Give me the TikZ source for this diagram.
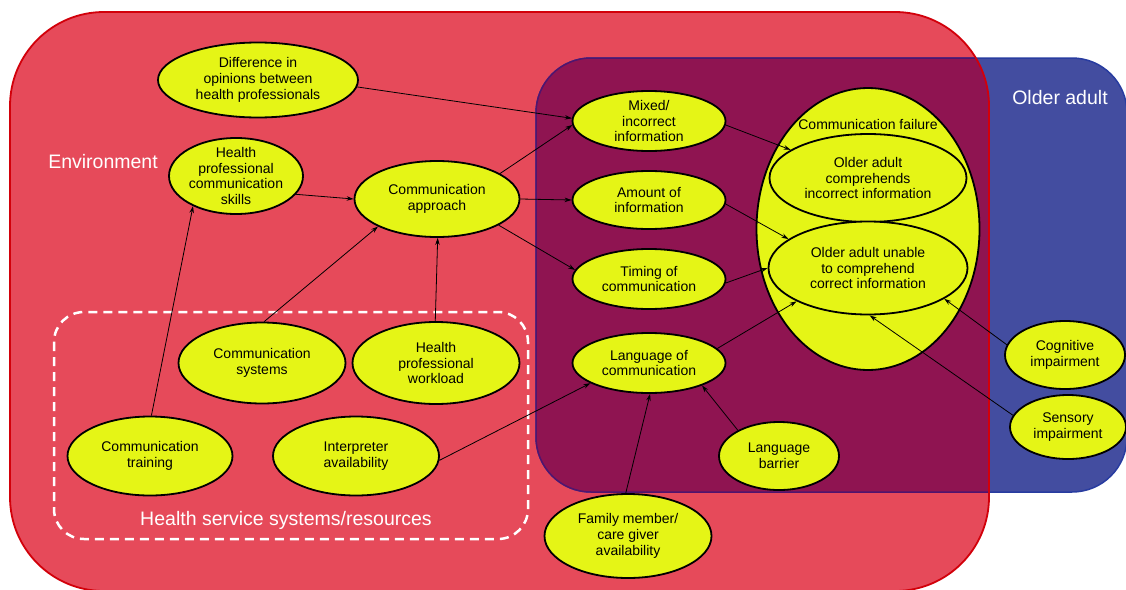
\documentclass[tikz,border=0pt]{standalone}
\usepackage{fontspec}
\setmainfont{Liberation Sans}
\usetikzlibrary{shapes.geometric,arrows.meta}
\definecolor{envred}{RGB}{230,74,90}
\definecolor{envborder}{RGB}{210,0,10}
\definecolor{oldblue}{RGB}{67,77,160}
\definecolor{oldborder}{RGB}{40,60,160}
\definecolor{overlapc}{RGB}{143,20,81}
\definecolor{overlapborder}{RGB}{80,20,110}
\definecolor{ellyellow}{RGB}{229,245,22}
\tikzset{
  ellnode/.style={ellipse, draw=black, line width=1.8pt, fill=ellyellow, inner sep=0pt},
  txt/.style={align=center, inner sep=0pt, font=\fontsize{14}{15.8}\selectfont},
  biglabel/.style={text=white, inner sep=0pt, font=\fontsize{19.5}{22}\selectfont},
  arr/.style={-{Stealth[length=7pt,width=4.5pt]}, line width=0.8pt, draw=black},
}
\begin{document}
\begin{tikzpicture}[x=1pt,y=-1pt]
\useasboundingbox (0,0) rectangle (1126,589);
% background regions
\fill[envred, rounded corners=94pt] (10,12) rectangle (989,591);
\fill[oldblue, rounded corners=55pt] (536,58) rectangle (1127,492);
\draw[oldborder, line width=1.5pt, rounded corners=55pt] (536,58) rectangle (1127,492);
\begin{scope}
  \clip[rounded corners=94pt] (10,12) rectangle (989,591);
  \fill[overlapc, rounded corners=55pt] (536,58) rectangle (1127,492);
  \draw[overlapborder, line width=1.5pt, rounded corners=55pt] (536,58) rectangle (1127,492);
\end{scope}
\draw[envborder, line width=1.8pt, rounded corners=94pt] (10,12) rectangle (989,591);
% dashed group
\draw[white, line width=2.5pt, dash pattern=on 9pt off 6pt, rounded corners=30pt] (54,312) rectangle (528,539);
% region labels
\node[biglabel] (envlab) at (103,162) {Environment};
\node[biglabel] (oldlab) at (1060,98) {Older adult};
\node[biglabel] (hsslab) at (286,520) {Health service systems/resources};
% nodes
\node[ellnode, minimum width=200, minimum height=75, label={[txt]center:{Difference in\\opinions between\\health professionals}}] (diff) at (258,80) {};
\node[ellnode, minimum width=134, minimum height=76, label={[txt]center:{Health\\professional\\communication\\skills}}] (skills) at (236,176) {};
\node[ellnode, minimum width=165, minimum height=76, label={[txt]center:{Communication\\approach}}] (approach) at (437,199) {};
\node[ellnode, minimum width=153, minimum height=60, label={[txt]center:{Mixed/\\incorrect\\information}}] (mixed) at (649,121) {};
\node[ellnode, minimum width=153, minimum height=58, label={[txt]center:{Amount of\\information}}] (amount) at (649,200) {};
\node[ellnode, minimum width=153, minimum height=60, label={[txt]center:{Timing of\\communication}}] (timing) at (649,279) {};
\node[ellnode, minimum width=223, minimum height=282] (failure) at (868,229) {};
\node[txt] (faillab) at (868,124) {Communication failure};
\node[ellnode, minimum width=197, minimum height=88, label={[txt]center:{Older adult\\comprehends\\incorrect information}}] (compinc) at (868,178) {};
\node[ellnode, minimum width=199, minimum height=93, label={[txt]center:{Older adult unable\\to comprehend\\correct information}}] (unable) at (868,268) {};
\node[ellnode, minimum width=153, minimum height=60, label={[txt]center:{Language of\\communication}}] (language) at (649,363) {};
\node[ellnode, minimum width=120, minimum height=68, label={[txt]center:{Language\\barrier}}] (barrier) at (779,456) {};
\node[ellnode, minimum width=167, minimum height=84, label={[txt]center:{Family member/\\care giver\\availability}}] (family) at (628,536) {};
\node[ellnode, minimum width=120, minimum height=68, label={[txt]center:{Cognitive\\impairment}}] (cognitive) at (1065,355) {};
\node[ellnode, minimum width=116, minimum height=64, label={[txt]center:{Sensory\\impairment}}] (sensory) at (1068,427) {};
\node[ellnode, minimum width=167, minimum height=81, label={[txt]center:{Communication\\systems}}] (systems) at (262,363) {};
\node[ellnode, minimum width=167, minimum height=82, label={[txt]center:{Health\\professional\\workload}}] (workload) at (436,363) {};
\node[ellnode, minimum width=165, minimum height=79, label={[txt]center:{Communication\\training}}] (training) at (150,456) {};
\node[ellnode, minimum width=166, minimum height=79, label={[txt]center:{Interpreter\\availability}}] (interp) at (356,456) {};
% connectors
\draw[arr] (diff.-4) -- (mixed.178);
\draw[arr] (skills.-17) -- (approach.180);
\draw[arr] (training.88) -- (skills.215);
\draw[arr] (systems.87) -- (approach.205);
\draw[arr] (workload.91) -- (approach.-89);
\draw[arr] (approach.22) -- (mixed.183);
\draw[arr] (approach.0) -- (amount.180);
\draw[arr] (approach.-23) -- (timing.173);
\draw[arr] (mixed.-3) -- (compinc.160);
\draw[arr] (amount.-3) -- (unable.160);
\draw[arr] (timing.-3) -- (unable.180);
\draw[arr] (language.12) -- (unable.205);
\draw[arr] (interp.-3) -- (language.199);
\draw[arr] (family.93) -- (language.-88);
\draw[arr] (barrier.148) -- (language.-23);
\draw[arr] (cognitive.170) -- (unable.-22);
\draw[arr] (sensory.168) -- (unable.-88);
\end{tikzpicture}
\end{document}
